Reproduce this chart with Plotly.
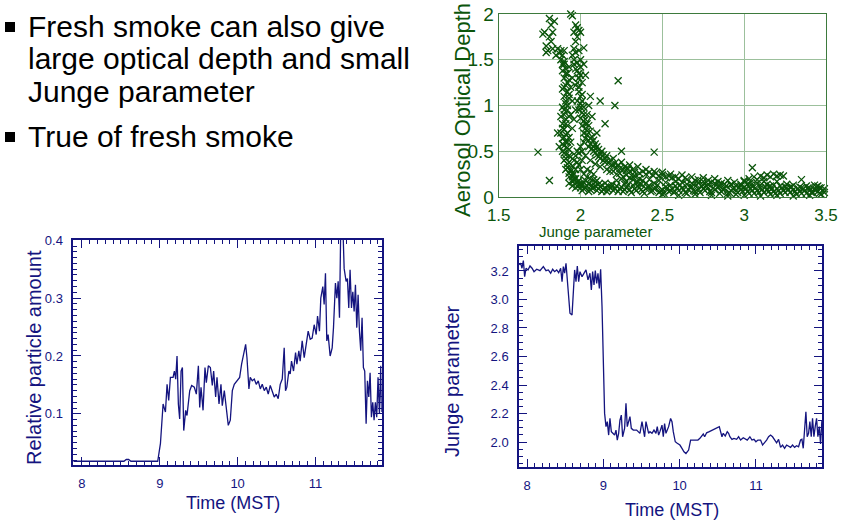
import plotly.graph_objects as go

W, H = 858, 520

# ---------------- data ----------------
# bottom-left: relative particle amount vs time (MST)
pa_time = [7.89, 8.20, 8.54, 8.57, 8.60, 8.63, 8.974, 9.009, 9.043, 9.073, 9.094, 9.115, 9.137, 9.171, 9.188,
           9.205, 9.222, 9.239, 9.256, 9.274, 9.291, 9.308, 9.333, 9.350, 9.385, 9.410, 9.444, 9.470, 9.496,
           9.513, 9.530, 9.556, 9.581, 9.598, 9.624, 9.650, 9.675, 9.692, 9.718, 9.735, 9.761, 9.786, 9.803,
           9.829, 9.855, 9.880, 9.906, 9.932, 9.957, 9.991, 10.026, 10.051, 10.077, 10.103, 10.120, 10.145,
           10.162, 10.188, 10.214, 10.239, 10.265, 10.291, 10.316, 10.342, 10.368, 10.393, 10.419, 10.444,
           10.470, 10.496, 10.521, 10.547, 10.573, 10.598, 10.615, 10.632, 10.658, 10.675, 10.692, 10.718,
           10.744, 10.761, 10.786, 10.803, 10.829, 10.855, 10.880, 10.906, 10.932, 10.957, 10.983, 11.009,
           11.026, 11.051, 11.068, 11.094, 11.111, 11.128, 11.145, 11.162, 11.188, 11.214, 11.231, 11.256,
           11.274, 11.291, 11.308, 11.325, 11.350, 11.368, 11.393, 11.410, 11.427, 11.444, 11.462, 11.479,
           11.496, 11.513, 11.530, 11.547, 11.564, 11.581, 11.598, 11.615, 11.632, 11.650, 11.667, 11.684,
           11.701, 11.718, 11.735, 11.752, 11.769, 11.786, 11.803, 11.821, 11.838, 11.850]
pa_value = [0.018, 0.018, 0.018, 0.021, 0.021, 0.018, 0.018, 0.049, 0.117, 0.103, 0.151, 0.123, 0.163, 0.163, 0.174,
            0.160, 0.200, 0.117, 0.091, 0.174, 0.180, 0.071, 0.106, 0.097, 0.140, 0.149, 0.146, 0.134, 0.183,
            0.111, 0.146, 0.106, 0.180, 0.154, 0.183, 0.180, 0.149, 0.174, 0.129, 0.163, 0.117, 0.151, 0.114,
            0.140, 0.106, 0.080, 0.089, 0.140, 0.151, 0.157, 0.163, 0.186, 0.206, 0.220, 0.197, 0.143,
            0.163, 0.157, 0.160, 0.151, 0.157, 0.143, 0.151, 0.140, 0.146, 0.134, 0.149, 0.137,
            0.129, 0.134, 0.126, 0.151, 0.160, 0.214, 0.140, 0.146, 0.174, 0.169, 0.191, 0.174,
            0.206, 0.186, 0.209, 0.191, 0.226, 0.197, 0.220, 0.243, 0.229, 0.231, 0.254, 0.237,
            0.269, 0.243, 0.300, 0.320, 0.289, 0.343, 0.226, 0.237, 0.200, 0.214, 0.249, 0.326,
            0.300, 0.329, 0.266, 0.430, 0.430, 0.351, 0.329, 0.334, 0.283, 0.349, 0.283, 0.311,
            0.277, 0.323, 0.249, 0.306, 0.243, 0.209, 0.266, 0.180, 0.174, 0.083, 0.157, 0.129,
            0.171, 0.094, 0.120, 0.089, 0.120, 0.094, 0.163, 0.100, 0.183, 0.103]

# bottom-right: Junge parameter vs time (MST)
jp_time = [7.900, 7.917, 7.934, 7.952, 7.969, 7.987, 8.013, 8.039, 8.066, 8.092, 8.127, 8.170, 8.214, 8.249,
           8.279, 8.310, 8.336, 8.362, 8.389, 8.415, 8.441, 8.459, 8.476, 8.493, 8.511, 8.528, 8.546, 8.563,
           8.590, 8.607, 8.624, 8.642, 8.659, 8.677, 8.694, 8.721, 8.747, 8.773, 8.799, 8.825, 8.843, 8.860,
           8.878, 8.895, 8.913, 8.930, 8.948, 8.965, 8.983, 9.000, 9.017, 9.035, 9.052, 9.070, 9.087, 9.105,
           9.122, 9.148, 9.166, 9.183, 9.201, 9.218, 9.236, 9.253, 9.279, 9.297, 9.314, 9.332, 9.349, 9.367,
           9.393, 9.437, 9.480, 9.507, 9.524, 9.541, 9.559, 9.576, 9.594, 9.611, 9.638, 9.664, 9.690, 9.707,
           9.725, 9.742, 9.769, 9.786, 9.803, 9.821, 9.838, 9.856, 9.882, 9.900, 9.917, 9.943, 9.969, 10.004,
           10.031, 10.057, 10.083, 10.100, 10.118, 10.144, 10.170, 10.205, 10.240, 10.266, 10.293, 10.310,
           10.328, 10.354, 10.389, 10.415, 10.441, 10.467, 10.493, 10.520, 10.537, 10.555, 10.572, 10.598,
           10.624, 10.642, 10.659, 10.686, 10.712, 10.747, 10.773, 10.799, 10.834, 10.860, 10.886, 10.921,
           10.948, 10.974, 11.000, 11.026, 11.061, 11.087, 11.114, 11.140, 11.166, 11.192, 11.218, 11.245,
           11.271, 11.297, 11.323, 11.349, 11.376, 11.402, 11.428, 11.454, 11.480, 11.507, 11.533, 11.559,
           11.585, 11.603, 11.620, 11.638, 11.655, 11.672, 11.690, 11.707, 11.725, 11.742, 11.760, 11.777,
           11.795, 11.812, 11.830, 11.847, 11.865, 11.873]
jp_value = [3.242, 3.254, 3.219, 3.273, 3.160, 3.219, 3.207, 3.235, 3.219, 3.195, 3.212, 3.202, 3.230, 3.202,
            3.207, 3.184, 3.212, 3.195, 3.207, 3.188, 3.219, 3.125, 3.230, 3.184, 3.254, 3.137, 2.961, 2.903,
            2.891, 3.020, 3.207, 3.125, 3.235, 3.125, 3.195, 3.160, 3.184, 3.207, 3.137, 3.184, 3.067, 3.195,
            3.102, 3.202, 3.113, 3.184, 3.078, 3.212, 2.950, 2.482, 2.201, 2.108, 2.143, 2.049, 2.166, 2.073,
            2.061, 2.049, 2.084, 2.014, 2.061, 2.154, 2.189, 2.037, 2.096, 2.271, 2.108, 2.143, 2.178, 2.096,
            2.084, 2.084, 2.061, 2.143, 2.073, 2.037, 2.143, 2.108, 2.061, 2.073, 2.061, 2.084, 2.061, 2.108,
            2.049, 2.073, 2.119, 2.037, 2.130, 2.061, 2.084, 2.108, 2.166, 2.143, 2.073, 2.002, 1.991, 1.979,
            1.956, 1.932, 1.920, 1.932, 1.944, 2.014, 2.014, 2.019, 2.014, 2.026, 2.042, 2.056,
            2.037, 2.065, 2.073, 2.080, 2.084, 2.089, 2.096, 2.108, 2.073, 2.037, 2.061, 2.042,
            2.073, 2.061, 2.037, 2.019, 2.026, 2.019, 2.037, 2.014, 2.030, 2.019, 2.014, 2.037,
            2.014, 2.019, 2.002, 2.014, 2.014, 1.979, 1.995, 2.014, 2.037, 2.049, 2.037, 2.014,
            1.995, 2.019, 1.963, 1.979, 1.956, 1.979, 1.972, 1.963, 1.979, 1.963, 1.974, 1.967,
            2.014, 2.019, 1.956, 2.108, 2.213, 2.037, 2.061, 2.143, 2.037, 2.166, 2.037, 2.108,
            2.166, 2.037, 2.108, 1.986, 2.154, 2.108]

# top-right: (Junge parameter, aerosol optical depth) pairs
scatter_points = [
    # upper-left cluster
    (1.77, 1.78), (1.78, 1.80), (1.79, 1.65), (1.79, 1.58), (1.80, 2.05), (1.80, 1.60), (1.81, 1.95), (1.81, 1.75),
    (1.82, 1.88), (1.82, 1.70), (1.83, 1.80), (1.83, 1.62), (1.84, 2.08), (1.84, 1.92), (1.85, 1.55), (1.86, 1.62),
    (1.87, 1.57), (1.88, 1.60), (1.89, 1.55), (1.90, 1.60),
    # upper right branch
    (1.94, 2.00), (1.95, 2.07), (1.95, 1.98), (1.96, 1.80), (1.97, 1.88), (1.98, 1.85), (1.99, 1.82), (2.00, 1.80),
    (1.98, 1.75), (1.97, 1.70), (1.96, 1.62), (1.97, 1.58), (1.95, 1.55), (1.96, 1.50), (1.98, 1.47), (1.99, 1.60),
    (2.00, 1.42), (2.02, 1.63), (2.02, 1.45), (1.98, 1.38), (1.99, 1.30), (2.00, 1.33), (2.03, 1.33), (2.01, 1.25),
    (1.97, 1.22), (1.99, 1.15), (2.01, 1.12), (1.98, 1.05), (2.00, 1.02), (2.02, 0.98),
    (1.99, 1.20), (2.00, 1.10), (2.01, 1.05), (2.00, 0.98), (2.02, 0.90), (2.03, 0.80), (1.98, 1.25), (2.00, 1.50),
    (1.97, 1.40), (1.99, 1.35), (1.96, 1.45),
    # left dense branch
    (1.88, 1.50), (1.89, 1.45), (1.90, 1.48), (1.91, 1.40), (1.89, 1.38), (1.92, 1.35), (1.90, 1.30), (1.93, 1.28),
    (1.91, 1.22), (1.89, 1.18), (1.92, 1.15), (1.90, 1.10), (1.93, 1.08), (1.91, 1.02), (1.89, 0.98), (1.92, 0.95),
    (1.90, 0.90), (1.88, 0.88), (1.91, 0.85), (1.89, 0.80), (1.92, 0.78), (1.90, 0.74), (1.88, 0.70), (1.91, 0.68),
    (1.89, 0.64), (1.92, 0.60), (1.90, 0.56), (1.93, 0.52), (1.89, 0.50), (1.91, 0.46), (1.94, 0.44), (1.90, 0.40),
    (1.92, 0.36), (1.95, 0.34), (1.91, 0.30), (1.94, 0.28), (1.96, 0.25), (1.93, 0.22), (1.97, 0.20), (1.99, 0.18),
    (1.95, 0.17), (2.02, 0.16), (1.86, 0.70), (1.87, 0.55), (1.93, 0.65), (1.94, 0.90), (1.95, 1.05), (1.94, 1.20),
    (1.93, 1.42), (1.95, 1.30),
    (1.90, 1.45), (1.91, 1.35), (1.92, 1.25), (1.90, 1.20), (1.93, 1.12), (1.91, 1.05), (1.92, 1.00), (1.90, 0.95),
    (1.93, 0.88), (1.91, 0.80), (1.89, 0.75), (1.92, 0.70), (1.90, 0.65), (1.91, 0.60), (1.89, 0.58), (1.92, 0.54),
    (1.90, 0.48), (1.93, 0.45), (1.91, 0.42), (1.93, 0.38), (1.92, 0.32), (1.94, 0.30), (1.93, 0.26), (1.95, 0.22),
    (1.96, 0.18), (1.98, 0.16), (2.00, 0.14), (1.94, 0.60), (1.95, 0.75), (1.96, 0.85), (1.97, 0.95),
    # right branch
    (1.99, 0.95), (2.01, 0.92), (2.00, 0.86), (2.02, 0.83), (2.01, 0.78), (2.03, 0.75), (2.02, 0.70), (2.04, 0.68),
    (2.03, 0.64), (2.05, 0.62), (2.06, 0.58), (2.05, 0.55), (2.07, 0.53), (2.08, 0.50), (2.09, 0.48), (2.10, 0.46),
    (2.11, 0.44), (2.12, 0.42), (2.14, 0.40), (2.15, 0.38), (2.17, 0.37), (2.19, 0.35), (2.20, 0.34), (2.22, 0.32),
    (2.24, 0.31), (2.26, 0.30), (2.28, 0.29), (2.30, 0.28), (2.33, 0.27), (2.36, 0.26), (2.40, 0.25), (2.44, 0.24),
    (2.48, 0.23), (2.52, 0.22), (2.56, 0.21), (2.60, 0.20), (2.65, 0.19), (2.70, 0.18), (2.75, 0.17), (2.80, 0.16),
    (2.86, 0.15), (2.92, 0.14), (2.98, 0.14), (3.04, 0.13), (3.10, 0.13), (3.16, 0.12), (3.22, 0.12), (3.28, 0.11),
    (3.34, 0.11), (3.40, 0.10), (3.46, 0.10),
    (2.04, 0.80), (2.06, 0.72), (2.08, 0.62), (2.10, 0.55), (2.13, 0.50), (2.16, 0.45), (2.20, 0.42), (2.25, 0.38),
    (2.30, 0.35), (2.35, 0.33), (2.40, 0.30), (2.45, 0.28), (2.50, 0.27), (2.55, 0.25), (2.62, 0.24), (2.68, 0.22),
    (2.75, 0.21), (2.82, 0.20), (2.90, 0.18), (3.00, 0.17), (2.06, 0.40), (2.09, 0.36), (2.12, 0.33), (2.16, 0.30),
    (2.20, 0.28), (2.24, 0.26), (2.28, 0.24),
    (2.03, 0.85), (2.05, 0.78), (2.04, 0.72), (2.07, 0.66), (2.06, 0.64), (2.09, 0.58), (2.08, 0.55), (2.11, 0.52),
    (2.12, 0.47), (2.14, 0.46), (2.15, 0.42), (2.18, 0.40), (2.21, 0.37), (2.23, 0.35), (2.27, 0.33), (2.29, 0.31),
    (2.32, 0.30), (2.38, 0.28), (2.42, 0.27), (2.46, 0.26), (2.50, 0.24), (2.54, 0.23), (2.58, 0.22), (2.64, 0.21),
    (2.72, 0.19), (2.78, 0.18), (2.84, 0.17), (2.94, 0.16), (2.18, 0.28), (2.22, 0.25), (2.32, 0.22), (2.42, 0.19),
    (2.48, 0.18),
    # lower band
    (1.98, 0.12), (2.00, 0.10), (2.02, 0.09), (2.04, 0.12), (2.06, 0.08), (2.08, 0.10), (2.10, 0.07), (2.12, 0.11),
    (2.14, 0.08), (2.16, 0.06), (2.18, 0.10), (2.20, 0.07), (2.22, 0.12), (2.24, 0.09), (2.26, 0.06), (2.28, 0.10),
    (2.30, 0.08), (2.32, 0.13), (2.34, 0.07), (2.36, 0.10), (2.38, 0.06), (2.40, 0.09), (2.42, 0.12), (2.44, 0.07),
    (2.46, 0.10), (2.48, 0.05), (2.50, 0.08), (2.52, 0.11), (2.54, 0.06), (2.56, 0.09), (2.58, 0.12), (2.60, 0.07),
    (2.62, 0.10), (2.64, 0.05), (2.66, 0.08), (2.68, 0.11), (2.70, 0.06), (2.72, 0.09), (2.74, 0.12), (2.76, 0.07),
    (2.78, 0.10), (2.80, 0.05), (2.82, 0.08), (2.84, 0.11), (2.86, 0.06), (2.88, 0.09), (2.90, 0.04), (2.92, 0.07),
    (2.94, 0.10), (2.96, 0.05), (2.98, 0.08), (3.00, 0.11), (3.02, 0.06), (3.04, 0.09), (3.06, 0.04), (3.08, 0.07),
    (3.10, 0.10), (3.12, 0.05), (3.14, 0.08), (3.16, 0.03), (3.18, 0.06), (3.20, 0.09), (3.22, 0.04), (3.24, 0.07),
    (3.26, 0.10), (3.28, 0.05), (3.30, 0.08), (3.32, 0.03), (3.34, 0.06), (3.36, 0.09), (3.38, 0.04), (3.40, 0.07),
    (3.42, 0.05), (3.44, 0.08), (3.46, 0.04), (3.48, 0.07), (3.49, 0.05), (3.47, 0.10), (3.45, 0.12), (3.43, 0.13),
    (2.55, 0.13), (2.65, 0.14), (2.75, 0.13), (2.85, 0.12), (2.95, 0.12), (3.05, 0.12), (3.15, 0.11), (3.25, 0.11),
    (3.35, 0.10), (2.45, 0.15), (2.35, 0.16),
    (2.50, 0.03), (2.60, 0.02), (2.70, 0.03), (2.80, 0.02), (2.90, 0.01), (3.00, 0.02), (3.10, 0.01), (3.20, 0.02),
    (3.30, 0.01), (3.40, 0.02),
    (2.31, 0.05), (2.33, 0.09), (2.35, 0.12), (2.37, 0.08), (2.39, 0.04), (2.41, 0.11), (2.43, 0.06), (2.45, 0.09),
    (2.47, 0.13), (2.49, 0.07), (2.51, 0.04), (2.53, 0.10), (2.55, 0.07), (2.57, 0.05), (2.59, 0.10), (2.61, 0.13),
    (2.63, 0.08), (2.65, 0.04), (2.67, 0.11), (2.69, 0.07), (2.71, 0.13), (2.73, 0.05), (2.75, 0.09), (2.77, 0.12),
    (2.79, 0.06), (2.81, 0.10), (2.83, 0.13), (2.85, 0.04), (2.87, 0.08), (2.89, 0.12), (2.91, 0.05), (2.93, 0.09),
    (2.95, 0.03), (2.97, 0.11), (2.99, 0.06), (3.01, 0.09), (3.03, 0.04), (3.05, 0.07), (3.07, 0.10), (3.09, 0.05),
    (3.11, 0.08), (3.13, 0.11), (3.15, 0.06), (3.17, 0.09), (3.19, 0.04), (3.21, 0.07), (3.23, 0.10), (3.25, 0.05),
    (3.27, 0.08), (3.29, 0.11), (3.31, 0.06), (3.33, 0.09), (3.35, 0.04), (3.37, 0.07), (3.39, 0.10), (3.41, 0.05),
    (3.43, 0.08), (3.45, 0.06), (3.47, 0.03), (3.49, 0.09),
    (2.01, 0.07), (2.03, 0.11), (2.05, 0.06), (2.07, 0.10), (2.09, 0.12), (2.11, 0.09), (2.13, 0.06), (2.15, 0.10),
    (2.17, 0.08), (2.19, 0.11), (2.21, 0.09), (2.23, 0.06), (2.25, 0.11), (2.27, 0.08), (2.29, 0.13),
    (2.52, 0.16), (2.58, 0.17), (2.62, 0.16), (2.68, 0.15), (2.72, 0.16), (2.78, 0.14), (2.82, 0.15), (2.88, 0.14),
    (2.92, 0.13), (2.98, 0.12), (3.02, 0.14), (3.08, 0.15), (3.14, 0.14), (3.18, 0.13), (3.26, 0.14), (3.30, 0.13),
    (3.38, 0.12), (3.44, 0.11),
    # middle clusters
    (2.22, 0.18), (2.25, 0.20), (2.28, 0.17), (2.30, 0.21), (2.32, 0.19), (2.34, 0.16), (2.36, 0.20), (2.38, 0.18),
    (2.40, 0.15), (2.27, 0.14), (2.33, 0.23), (2.37, 0.14), (2.26, 0.22),
    (3.00, 0.18), (3.03, 0.20), (3.06, 0.22), (3.08, 0.19), (3.10, 0.23), (3.12, 0.21), (3.14, 0.24), (3.16, 0.22),
    (3.18, 0.25), (3.20, 0.23), (3.22, 0.24), (3.24, 0.23), (3.05, 0.32), (3.04, 0.16), (3.12, 0.17), (3.20, 0.17),
    (1.93, 0.15), (1.95, 0.12), (1.97, 0.10), (1.96, 0.20), (1.99, 0.14), (2.01, 0.13), (2.03, 0.18), (2.05, 0.15),
    (2.07, 0.13), (2.09, 0.16), (2.11, 0.14), (2.13, 0.13), (2.15, 0.15), (2.17, 0.12), (2.19, 0.14), (1.95, 0.25),
    (1.97, 0.30), (1.99, 0.35), (2.01, 0.40), (2.03, 0.45), (1.98, 0.50), (2.00, 0.55), (2.02, 0.60), (1.96, 0.40),
    (1.97, 0.45), (1.99, 0.48), (2.01, 0.50), (1.98, 0.38), (2.00, 0.30), (2.02, 0.25), (2.04, 0.22), (2.06, 0.20),
    (2.08, 0.19), (2.10, 0.18), (2.04, 0.30), (2.06, 0.28), (2.08, 0.25),
    # outliers
    (1.74, 0.49), (1.81, 0.18), (2.21, 1.00), (2.23, 1.27), (2.12, 1.05), (2.06, 1.10), (2.05, 1.00), (2.04, 0.90),
    (2.07, 0.88), (2.45, 0.49), (3.35, 0.19), (2.25, 0.50), (2.15, 0.80), (2.10, 0.70),
]
scatter_junge = [p[0] for p in scatter_points]
scatter_aod = [p[1] for p in scatter_points]

bullet_lines = ["Fresh smoke can also give", "large optical depth and small", "Junge parameter", "True of fresh smoke"]

# ---------------- styling ----------------
NAVY = "#14147f"
GREEN = "#0b550b"
GRIDGREEN = "#9cc09c"
FONT = "Liberation Sans, Arial, sans-serif"


def px_x(p):
    return p / W


def px_y(p):
    return 1 - p / H


fig = go.Figure()

fig.add_trace(go.Scatter(x=scatter_junge, y=scatter_aod, mode="markers", xaxis="x", yaxis="y",
                         cliponaxis=False,
                         marker=dict(symbol="x-thin", size=7, line=dict(width=1.3, color=GREEN), color=GREEN),
                         showlegend=False, hoverinfo="skip"))
fig.add_trace(go.Scatter(x=pa_time, y=pa_value, mode="lines", xaxis="x2", yaxis="y2",
                         line=dict(color=NAVY, width=1.3), showlegend=False))
fig.add_trace(go.Scatter(x=jp_time, y=jp_value, mode="lines", xaxis="x3", yaxis="y3",
                         line=dict(color=NAVY, width=1.3), showlegend=False))

bottom_axis = dict(showgrid=False, zeroline=False, showline=True, linecolor=NAVY, linewidth=1.5,
                   mirror="allticks", ticks="inside", ticklen=8, tickwidth=1.2, tickcolor=NAVY,
                   automargin=False, ticklabelstandoff=6,
                   tickfont=dict(family=FONT, size=13, color=NAVY))

fig.update_layout(
    width=W, height=H, margin=dict(l=0, r=0, t=0, b=0, pad=0, autoexpand=False),
    paper_bgcolor="white", plot_bgcolor="white",
    xaxis=dict(domain=[px_x(498.7), px_x(826)], range=[1.5, 3.5], tickvals=[1.5, 2, 2.5, 3, 3.5],
               ticktext=["1.5", "2", "2.5", "3", "3.5"], showgrid=True, gridcolor=GRIDGREEN, gridwidth=1.2,
               zeroline=False, showline=True, linecolor="#3d7a3d", linewidth=1.2, mirror=True, ticks="",
               automargin=False, ticklabelstandoff=2,
               tickfont=dict(family=FONT, size=17, color=GREEN), anchor="y"),
    yaxis=dict(domain=[px_y(197), px_y(14)], range=[0, 2], tickvals=[0, 0.5, 1, 1.5, 2],
               ticktext=["0", "0.5", "1", "1.5", "2"], showgrid=True, gridcolor=GRIDGREEN, gridwidth=1.2,
               zeroline=False, showline=True, linecolor="#3d7a3d", linewidth=1.2, mirror=True, ticks="",
               automargin=False,
               tickfont=dict(family=FONT, size=19, color=GREEN), anchor="x"),
    xaxis2=dict(bottom_axis, domain=[px_x(73.3), px_x(381.7)], range=[7.89, 11.85], tickvals=[8, 9, 10, 11],
                minor=dict(dtick=0.1, ticklen=4, ticks="inside", tickcolor=NAVY, tickwidth=1.2), anchor="y2"),
    yaxis2=dict(bottom_axis, domain=[px_y(465), px_y(240)], range=[0.0115, 0.4005],
                tickvals=[0.1, 0.2, 0.3, 0.4], ticktext=["0.1", "0.2", "0.3", "0.4"],
                minor=dict(dtick=0.01, tick0=0, ticklen=4, ticks="inside", tickcolor=NAVY, tickwidth=1.2),
                anchor="x2"),
    xaxis3=dict(bottom_axis, domain=[px_x(519), px_x(822)], range=[7.895, 11.866], tickvals=[8, 9, 10, 11],
                minor=dict(dtick=0.1, ticklen=4, ticks="inside", tickcolor=NAVY, tickwidth=1.2), anchor="y3"),
    yaxis3=dict(bottom_axis, domain=[px_y(467), px_y(246)], range=[1.825, 3.375],
                tickvals=[2.0, 2.2, 2.4, 2.6, 2.8, 3.0, 3.2],
                ticktext=["2.0", "2.2", "2.4", "2.6", "2.8", "3.0", "3.2"],
                minor=dict(dtick=0.05, tick0=0, ticklen=4, ticks="inside", tickcolor=NAVY, tickwidth=1.2),
                anchor="x3"),
)

ann = []


def add_text(text, x, y, size, color, angle=0, xanchor="center", yanchor="middle"):
    ann.append(dict(text=text, x=px_x(x), y=px_y(y), xref="paper", yref="paper", showarrow=False,
                    xanchor=xanchor, yanchor=yanchor, textangle=angle,
                    font=dict(family=FONT, size=size, color=color)))


# axis titles
add_text("Aerosol Optical Depth", 462, 110, 22, GREEN, angle=-90)
add_text("Junge parameter", 595, 231, 15, GREEN)
add_text("Relative particle amount", 34, 358, 20, NAVY, angle=-90)
add_text("Time (MST)", 233, 503, 18, NAVY)
add_text("Junge parameter", 452, 381, 20, NAVY, angle=-90)
add_text("Time (MST)", 672, 510, 18, NAVY)

# bullet text
for txt, yc in zip(bullet_lines, [26, 58, 91, 137]):
    add_text(txt, 26, yc, 30, "black", xanchor="left")

fig.update_layout(annotations=ann)

# bullet squares
for yc in [27, 137]:
    fig.add_shape(type="rect", xref="paper", yref="paper", x0=px_x(5), x1=px_x(15),
                  y0=px_y(yc + 5), y1=px_y(yc - 5), fillcolor="black", line=dict(width=0))

fig.write_html("out.html")
